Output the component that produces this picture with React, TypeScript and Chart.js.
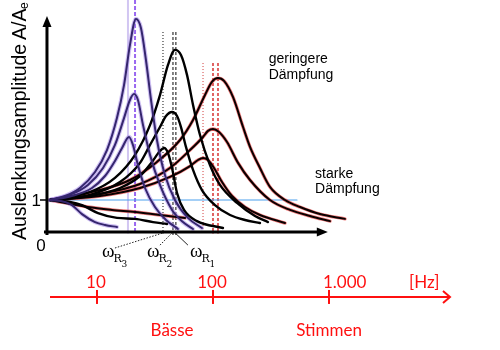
import React, { useEffect, useRef } from 'react';
import { Chart, registerables } from 'chart.js';

Chart.register(...registerables);

// x = log10(frequency / Hz), y = amplitude ratio A/Ae

// purple family (lowest resonance ωR3)
const P1_X = [0.595, 0.724, 0.853, 0.983, 1.086, 1.172, 1.233, 1.284, 1.336, 1.379, 1.422, 1.466, 1.517, 1.586, 1.672, 1.784, 1.905];
const P1_Y = [1.0, 1.125, 1.375, 1.875, 2.56, 3.56, 4.59, 5.84, 6.66, 6.375, 5.375, 4.125, 2.875, 1.78, 1.0, 0.44, 0.125];
const P2_X = [0.595, 0.767, 0.922, 1.052, 1.155, 1.233, 1.284, 1.319, 1.353, 1.397, 1.457, 1.543, 1.647, 1.741, 1.828];
const P2_Y = [1.0, 1.16, 1.47, 2.0, 2.72, 3.56, 4.125, 4.31, 4.125, 3.34, 2.41, 1.47, 0.69, 0.31, 0.094];
const P3_X = [0.595, 0.784, 0.957, 1.069, 1.155, 1.216, 1.276, 1.31, 1.353, 1.414, 1.5, 1.595, 1.698];
const P3_Y = [1.0, 1.125, 1.375, 1.75, 2.22, 2.625, 2.97, 2.72, 2.09, 1.375, 0.78, 0.375, 0.094];
const P4_X = [0.595, 0.724, 0.784, 0.871, 0.983, 1.069, 1.172];
const P4_Y = [1.0, 0.94, 0.84, 0.56, 0.31, 0.22, 0.156];

// black family (ωR2)
const B1_X = [0.595, 0.94, 1.155, 1.328, 1.457, 1.543, 1.612, 1.672, 1.724, 1.776, 1.828, 1.888, 1.974, 2.06, 2.207, 2.362, 2.474];
const B1_Y = [1.0, 1.25, 1.69, 2.41, 3.34, 4.28, 5.22, 5.69, 5.53, 4.91, 3.97, 3.03, 2.09, 1.47, 0.91, 0.5, 0.31];
const B2_X = [0.595, 0.94, 1.198, 1.371, 1.457, 1.543, 1.595, 1.647, 1.69, 1.724, 1.767, 1.828, 1.905, 2.017, 2.147, 2.276, 2.405];
const B2_Y = [1.0, 1.16, 1.56, 2.16, 2.72, 3.28, 3.625, 3.75, 3.625, 3.28, 2.66, 1.94, 1.31, 0.84, 0.53, 0.375, 0.28];
const B3_X = [0.595, 0.94, 1.198, 1.371, 1.474, 1.543, 1.578, 1.612, 1.647, 1.69, 1.75, 1.862, 2.086];
const B3_Y = [1.0, 1.125, 1.375, 1.75, 2.19, 2.53, 2.625, 2.47, 2.0, 1.22, 0.69, 0.34, 0.125];
const B4_X = [0.595, 0.767, 0.871, 1.009, 1.172, 1.328, 1.483, 1.603];
const B4_Y = [1.0, 0.94, 0.84, 0.59, 0.44, 0.41, 0.31, 0.25];

// red family (ωR1)
const R1_X = [0.595, 1.026, 1.284, 1.517, 1.716, 1.828, 1.931, 1.991, 2.043, 2.095, 2.172, 2.259, 2.319, 2.405, 2.491, 2.621, 2.75, 2.922, 3.138];
const R1_Y = [1.0, 1.31, 1.625, 2.19, 2.875, 3.5, 4.28, 4.69, 4.81, 4.72, 4.22, 3.28, 2.66, 2.0, 1.41, 1.0, 0.78, 0.56, 0.41];
const R2_X = [0.595, 1.026, 1.371, 1.629, 1.802, 1.914, 1.957, 2.0, 2.052, 2.121, 2.216, 2.319, 2.491, 2.664, 2.836, 3.009];
const R2_Y = [1.0, 1.19, 1.5, 2.0, 2.56, 2.97, 3.16, 3.22, 3.125, 2.81, 2.16, 1.625, 1.0, 0.69, 0.5, 0.34];
const R3_X = [0.595, 1.026, 1.371, 1.629, 1.802, 1.871, 1.914, 1.957, 2.009, 2.078, 2.164, 2.276, 2.405, 2.621];
const R3_Y = [1.0, 1.125, 1.375, 1.72, 2.06, 2.25, 2.31, 2.25, 2.0, 1.56, 1.125, 0.78, 0.53, 0.28];
const R4_X = [0.595, 0.922, 1.129, 1.328, 1.543, 1.759];
const R4_Y = [1.0, 0.78, 0.69, 0.625, 0.53, 0.44];

// reference line A/Ae = 1
const BASE_X = [0.612, 2.724];
const BASE_Y = [1, 1];

// resonance marker lines (x positions) and their upper ends
const PURPLE_MARKS = [1.267, 1.328];
const BLACK_MARKS = [1.569, 1.655, 1.68];
const RED_MARKS = [1.914, 2.0, 2.043];
const MARK_TOPS = [7.25, 6.25, 5.28];

// frequency axis
const FREQ_TICKS = [1, 2, 3];
const FREQ_TICK_LABELS = ['10', '100', '1.000'];

const X_MIN = 0.164;
const X_MAX = 4.474;
const Y_MIN = -3.6875;
const Y_MAX = 7.25;

const pts = (xs: number[], ys: number[]) => xs.map((x, i) => ({ x, y: ys[i] }));

function curve(xs: number[], ys: number[], color: string, width: number, order: number) {
  return {
    data: pts(xs, ys),
    borderColor: color,
    borderWidth: width,
    pointRadius: 0,
    fill: false,
    cubicInterpolationMode: 'monotone' as const,
    borderCapStyle: 'round' as const,
    order,
  };
}

function vline(x: number, top: number, bottom: number, color: string, width: number, dash: number[]) {
  return {
    data: [{ x, y: top }, { x, y: bottom }],
    borderColor: color,
    borderWidth: width,
    borderDash: dash,
    pointRadius: 0,
    fill: false,
    tension: 0,
    order: 30,
  };
}

const decor = {
  id: 'decor',
  afterDraw(chart: any) {
    const { ctx } = chart;
    const sx = chart.scales.x;
    const sy = chart.scales.y;
    const px = (v: number) => sx.getPixelForValue(v);
    const py = (v: number) => sy.getPixelForValue(v);
    ctx.save();

    // main axes
    const ox = px(0.569);
    const oy = py(0);
    const yTop = py(6.75);
    const xEnd = px(2.99);
    ctx.strokeStyle = '#000';
    ctx.fillStyle = '#000';
    ctx.lineWidth = 3;
    ctx.beginPath();
    ctx.moveTo(ox, oy + 3);
    ctx.lineTo(ox, yTop + 8);
    ctx.moveTo(ox - 3, oy);
    ctx.lineTo(xEnd - 8, oy);
    ctx.stroke();
    ctx.beginPath();
    ctx.moveTo(ox, yTop);
    ctx.lineTo(ox - 4.5, yTop + 11);
    ctx.lineTo(ox + 4.5, yTop + 11);
    ctx.closePath();
    ctx.fill();
    ctx.beginPath();
    ctx.moveTo(xEnd, oy);
    ctx.lineTo(xEnd - 11, oy - 4.5);
    ctx.lineTo(xEnd - 11, oy + 4.5);
    ctx.closePath();
    ctx.fill();

    // "1" tick and labels
    ctx.lineWidth = 1.5;
    ctx.beginPath();
    ctx.moveTo(ox - 7, py(1));
    ctx.lineTo(ox, py(1));
    ctx.stroke();
    ctx.font = '17px "Liberation Sans", Arial, sans-serif';
    ctx.textAlign = 'right';
    ctx.textBaseline = 'middle';
    ctx.fillText('1', ox - 6, py(1) + 1);
    ctx.textAlign = 'center';
    ctx.textBaseline = 'alphabetic';
    ctx.fillText('0', ox - 6, oy + 19);

    // y-axis title (rotated)
    ctx.save();
    ctx.translate(26, 240);
    ctx.rotate(-Math.PI / 2);
    ctx.textAlign = 'left';
    ctx.font = '19.5px "Liberation Sans", Arial, sans-serif';
    ctx.fillText('Auslenkungsamplitude', 0, 0);
    ctx.fillText('A/A', 200, 0);
    ctx.font = '12px "Liberation Sans", Arial, sans-serif';
    ctx.fillText('e', 231, 2);
    ctx.restore();

    // damping annotations
    ctx.fillStyle = '#000';
    ctx.textAlign = 'left';
    ctx.font = '14px "Liberation Sans", Arial, sans-serif';
    ctx.fillText('geringere', px(2.48), py(5.28));
    ctx.fillText('Dämpfung', px(2.48), py(4.78));
    ctx.fillText('starke', px(2.88), py(1.69));
    ctx.fillText('Dämpfung', px(2.88), py(1.22));

    // leader lines to resonance frequencies
    ctx.strokeStyle = '#222';
    ctx.lineWidth = 1;
    ctx.setLineDash([1.5, 1.5]);
    ctx.beginPath();
    ctx.moveTo(px(1.155), py(-0.5));
    ctx.lineTo(px(1.569), py(-0.03));
    ctx.moveTo(px(1.543), py(-0.41));
    ctx.lineTo(px(1.647), py(-0.03));
    ctx.stroke();
    ctx.setLineDash([]);
    ctx.beginPath();
    ctx.moveTo(px(1.784), py(-0.41));
    ctx.lineTo(px(1.68), py(-0.05));
    ctx.stroke();

    // omega labels
    const omegas = [
      { x: 1.043, sub: '3' },
      { x: 1.431, sub: '2' },
      { x: 1.802, sub: '1' },
    ];
    ctx.fillStyle = '#000';
    ctx.textAlign = 'left';
    omegas.forEach((o) => {
      const x0 = px(o.x);
      const b = py(-0.78);
      ctx.font = '19px "Liberation Serif", "DejaVu Serif", serif';
      ctx.fillText('ω', x0, b);
      const w = ctx.measureText('ω').width;
      ctx.font = '11px "DejaVu Serif", serif';
      ctx.fillText('R', x0 + w - 1, b + 5);
      ctx.font = '9px "DejaVu Serif", serif';
      ctx.fillText(o.sub, x0 + w + 7, b + 10);
    });

    // frequency axis (red)
    const fy = py(-2.03);
    const fx0 = px(0.595);
    const fx1 = px(4.043);
    ctx.strokeStyle = '#ff1010';
    ctx.fillStyle = '#ff1010';
    ctx.lineWidth = 2;
    ctx.beginPath();
    ctx.moveTo(fx0, fy);
    ctx.lineTo(fx1, fy);
    ctx.moveTo(fx1 - 7, fy - 6);
    ctx.lineTo(fx1, fy);
    ctx.lineTo(fx1 - 7, fy + 6);
    ctx.stroke();
    ctx.font = '17px Lato, "Noto Sans", sans-serif';
    FREQ_TICKS.forEach((t, i) => {
      const tx = px(t);
      ctx.beginPath();
      ctx.moveTo(tx, fy - 7);
      ctx.lineTo(tx, fy + 7);
      ctx.stroke();
      const label = FREQ_TICK_LABELS[i];
      if (label.length > 3) {
        ctx.textAlign = 'left';
        ctx.fillText(label, tx - 6, fy - 9);
      } else {
        ctx.textAlign = 'center';
        ctx.fillText(label, tx - 1, fy - 9);
      }
    });
    ctx.textAlign = 'left';
    ctx.fillText('[Hz]', px(3.69), fy - 9);
    ctx.textAlign = 'center';
    ctx.fillText('Bässe', px(1.647), py(-3.25));
    ctx.fillText('Stimmen', px(3.0), py(-3.25));

    ctx.restore();
  },
};

export default function App() {
  const ref = useRef<HTMLCanvasElement>(null);
  useEffect(() => {
    const purpleCore = '#35266e';
    const purpleHalo = 'rgba(175,150,235,0.6)';
    const redCore = '#0a0000';
    const redHalo = 'rgba(235,70,70,0.7)';
    const datasets: any[] = [
      // purple
      ...[[P1_X, P1_Y], [P2_X, P2_Y], [P3_X, P3_Y], [P4_X, P4_Y]].flatMap(([xs, ys]) => [
        curve(xs, ys, purpleCore, 2, 2),
        curve(xs, ys, purpleHalo, 4.2, 12),
      ]),
      // black
      ...[[B1_X, B1_Y], [B2_X, B2_Y], [B3_X, B3_Y], [B4_X, B4_Y]].map(([xs, ys]) => curve(xs, ys, '#000', 2.4, 3)),
      // red
      ...[[R1_X, R1_Y], [R2_X, R2_Y], [R3_X, R3_Y], [R4_X, R4_Y]].flatMap(([xs, ys]) => [
        curve(xs, ys, redCore, 2, 4),
        curve(xs, ys, redHalo, 3.4, 14),
      ]),
      // baseline
      { ...curve(BASE_X, BASE_Y, '#4aa0ee', 1.2, 20), cubicInterpolationMode: 'default', tension: 0 },
      // markers
      vline(PURPLE_MARKS[0], MARK_TOPS[0], -0.05, '#d2c6f2', 2, []),
      vline(PURPLE_MARKS[1], MARK_TOPS[0], -0.05, '#9a68f0', 2, [4, 2]),
      vline(BLACK_MARKS[0], MARK_TOPS[1], -0.05, '#111', 1, [1, 2]),
      vline(BLACK_MARKS[1], MARK_TOPS[1], -0.12, '#333', 1.2, [3, 2]),
      vline(BLACK_MARKS[2], MARK_TOPS[1], -0.12, '#333', 1.2, [3, 2]),
      vline(RED_MARKS[0], MARK_TOPS[2], -0.05, '#d03838', 1, [1, 2]),
      vline(RED_MARKS[1], MARK_TOPS[2], -0.05, '#e06464', 2, [3, 2]),
      vline(RED_MARKS[2], MARK_TOPS[2], -0.05, '#e06464', 2, [3, 2]),
    ];
    const chart = new Chart(ref.current as HTMLCanvasElement, {
      type: 'line',
      data: { datasets },
      options: {
        responsive: false,
        animation: false,
        events: [],
        layout: { padding: 0 },
        plugins: { legend: { display: false }, tooltip: { enabled: false } },
        scales: {
          x: { type: 'linear', display: false, min: X_MIN, max: X_MAX },
          y: { type: 'linear', display: false, min: Y_MIN, max: Y_MAX },
        },
      },
      plugins: [decor],
    });
    return () => chart.destroy();
  }, []);
  return (
    <div style={{ position: 'fixed', left: 0, top: 0, width: 500, height: 350, background: '#fff' }}>
      <canvas ref={ref} width={500} height={350} style={{ display: 'block' }} />
    </div>
  );
}
